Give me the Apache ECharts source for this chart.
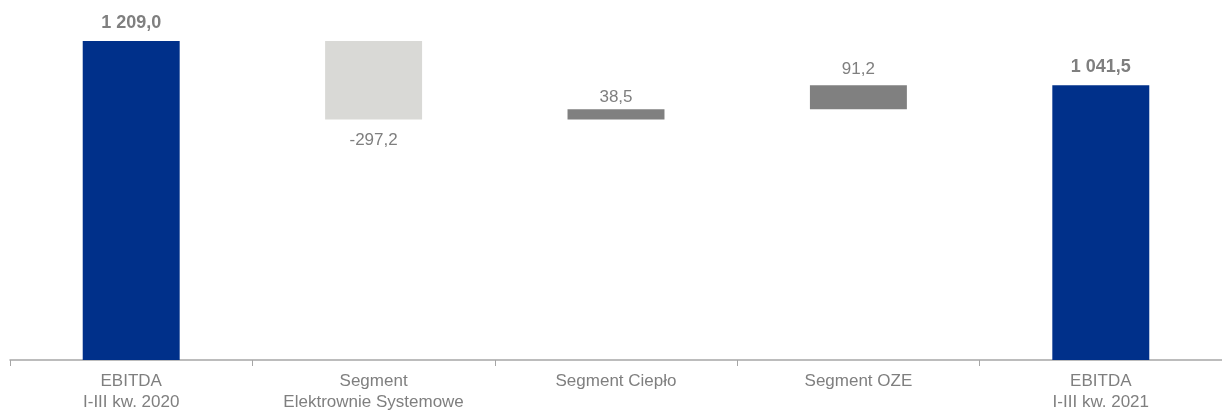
<!DOCTYPE html>
<html>
<head>
<meta charset="utf-8">
<script src="https://cdn.jsdelivr.net/npm/echarts@6/dist/echarts.min.js"></script>
<style>
html,body{margin:0;padding:0;background:#fff;}
#c{width:1222px;height:414px;}
</style>
</head>
<body>
<div id="c"></div>
<script>
const categories = ['EBITDA\nI-III kw. 2020', 'Segment\nElektrownie Systemowe', 'Segment Ciepło', 'Segment OZE', 'EBITDA\nI-III kw. 2021'];
const values = [1209.0, -297.2, 38.5, 91.2, 1041.5];
const isTotal = [true, false, false, false, true];

const colTotal = '#00308a';
const colNeg = '#d9d9d6';
const colPos = '#808080';
const txt = '#7f7f7f';
const FONT = 'Liberation Sans, Arial, sans-serif';
const labelGap = [9, 12, 3, 7, 9];

function fmt(v) {
  const s = Math.abs(v).toFixed(1).split('.');
  const int = s[0].replace(/\B(?=(\d{3})+(?!\d))/g, ' ');
  return (v < 0 ? '-' : '') + int + ',' + s[1];
}

const base = [];
const bars = [];
let running = 0;
values.forEach((v, i) => {
  if (isTotal[i]) {
    base.push(0);
    running = v;
    bars.push({
      value: v,
      itemStyle: { color: colTotal },
      label: { position: 'top', fontWeight: 'bold', fontSize: 18, distance: labelGap[i] }
    });
  } else {
    const start = running;
    const end = running + v;
    base.push(Math.min(start, end));
    running = end;
    bars.push({
      value: Math.abs(v),
      itemStyle: { color: v < 0 ? colNeg : colPos },
      label: { position: v < 0 ? 'bottom' : 'top', distance: labelGap[i] }
    });
  }
});

const chart = echarts.init(document.getElementById('c'), null, { renderer: 'canvas' });
chart.setOption({
  animation: false,
  grid: { left: 10, width: 1223, top: 41, bottom: 54, containLabel: false },
  xAxis: {
    type: 'category',
    data: categories,
    axisLine: { lineStyle: { color: '#a6a6a6', width: 1.5 } },
    axisTick: { show: true, length: 6, lineStyle: { color: '#a6a6a6' } },
    axisLabel: { color: txt, fontSize: 17, fontFamily: FONT, lineHeight: 21, margin: 11, interval: 0 }
  },
  yAxis: {
    type: 'value', min: 0, max: 1209, show: false, splitLine: { show: false }
  },
  series: [
    {
      type: 'bar', stack: 'w', data: base,
      itemStyle: { color: 'transparent' }, barWidth: '40%', silent: true
    },
    {
      type: 'bar', stack: 'w', data: bars, barWidth: '40%',
      label: {
        show: true, color: txt, fontSize: 17, fontFamily: FONT,
        formatter: p => fmt(values[p.dataIndex])
      }
    }
  ]
});
</script>
</body>
</html>
